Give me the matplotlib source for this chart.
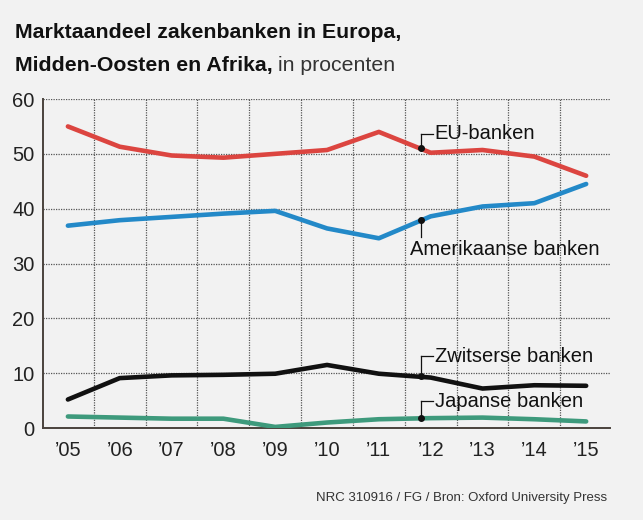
import matplotlib
matplotlib.use("Agg")
import matplotlib.pyplot as plt
from matplotlib import font_manager

# --- Data ---
jaren = [2005, 2006, 2007, 2008, 2009, 2010, 2011, 2012, 2013, 2014, 2015]
jaar_labels = ["\u201905", "\u201906", "\u201907", "\u201908", "\u201909", "\u201910",
               "\u201911", "\u201912", "\u201913", "\u201914", "\u201915"]
eu = [55.0, 51.3, 49.7, 49.3, 50.0, 50.7, 54.0, 50.2, 50.7, 49.5, 46.0]
amerikaans = [36.9, 37.9, 38.5, 39.1, 39.6, 36.4, 34.6, 38.6, 40.4, 41.0, 44.5]
zwitsers = [5.2, 9.1, 9.6, 9.7, 9.9, 11.5, 9.9, 9.2, 7.2, 7.8, 7.7]
japans = [2.1, 1.9, 1.7, 1.7, 0.2, 1.0, 1.6, 1.8, 1.9, 1.6, 1.2]
y_ticks = [0, 10, 20, 30, 40, 50, 60]

# --- Fonts ---
installed = {f.name for f in font_manager.fontManager.ttflist}
narrow = "Liberation Sans Narrow" if "Liberation Sans Narrow" in installed else "Liberation Sans"
FAM = [narrow, "DejaVu Sans"]
plt.rcParams["font.family"] = FAM

BG = "#f2f2f2"
RED = "#dc4540"
BLUE = "#2389c8"
BLACK = "#111111"
GREEN = "#3e9a7c"
AXIS = "#4a433d"

fig = plt.figure(figsize=(6.43, 5.20), dpi=100, facecolor=BG)
ax = fig.add_axes([0.0669, 0.1769, 0.8818, 0.6327], facecolor=BG)

# grid (gestippeld)
for y in y_ticks[1:]:
    ax.axhline(y, color="#555555", lw=0.9, ls=(0, (1.0, 1.0)), zorder=1)
for j in jaren[:-1]:
    ax.axvline(j + 0.5, color="#555555", lw=0.9, ls=(0, (1.0, 1.0)), zorder=1)

lw = 3.3
ax.plot(jaren, eu, color=RED, lw=lw, solid_capstyle="round", zorder=3)
ax.plot(jaren, amerikaans, color=BLUE, lw=lw, solid_capstyle="round", zorder=3)
ax.plot(jaren, zwitsers, color=BLACK, lw=lw, solid_capstyle="round", zorder=3)
ax.plot(jaren, japans, color=GREEN, lw=lw, solid_capstyle="round", zorder=3)

ax.set_xlim(2004.52, 2015.46)
ax.set_ylim(0, 60)
ax.set_xticks(jaren)
ax.set_xticklabels(jaar_labels)
ax.set_yticks(y_ticks)
ax.tick_params(length=0, labelsize=14.5, colors="#222222")
ax.tick_params(axis="x", pad=9)
ax.tick_params(axis="y", pad=6)
for s in ["top", "right"]:
    ax.spines[s].set_visible(False)
for s in ["left", "bottom"]:
    ax.spines[s].set_color(AXIS)
    ax.spines[s].set_linewidth(1.4)

# labels met verbindingslijn
lx = 2011.81
tx = 2012.05
def leader(y_dot, y_end, tekst, hook=True):
    ax.plot([lx], [y_dot], "o", color=BLACK, ms=4, zorder=5)
    ax.plot([lx, lx], [y_dot, y_end], color=BLACK, lw=0.9, zorder=4)
    if hook:
        ax.plot([lx, tx], [y_end, y_end], color=BLACK, lw=0.9, zorder=4)
        ax.text(tx + 0.03, y_end, tekst, fontsize=14.5, va="center", ha="left",
                color=BLACK, zorder=6)
    else:
        ax.text(2011.6, y_end - 0.6, tekst, fontsize=14.5, va="top", ha="left",
                color=BLACK, zorder=6)

leader(51.0, 53.7, "EU-banken")
leader(37.9, 34.9, "Amerikaanse banken", hook=False)
leader(9.5, 13.1, "Zwitserse banken")
leader(1.8, 4.9, "Japanse banken")

# titel
fig.text(0.024, 0.938, "Marktaandeel zakenbanken in Europa,", fontsize=15.3,
         fontweight="bold", va="center", ha="left", color="#111111")
t2 = fig.text(0.024, 0.874, "Midden-Oosten en Afrika,", fontsize=15.3,
              fontweight="bold", va="center", ha="left", color="#111111")
fig.canvas.draw()
bb = t2.get_window_extent()
x2 = bb.x1 / fig.bbox.width + 0.008
fig.text(x2, 0.874, "in procenten", fontsize=15.3, va="center", ha="left",
         color="#333333")

fig.text(0.944, 0.042, "NRC 310916 / FG / Bron: Oxford University Press",
         fontsize=9.5, va="center", ha="right", color="#333333")

fig.savefig("out.png", dpi=100, facecolor=BG)
